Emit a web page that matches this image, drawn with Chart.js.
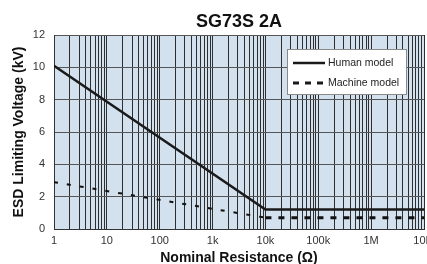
<!DOCTYPE html>
<html>
<head>
<meta charset="utf-8">
<script src="https://cdn.jsdelivr.net/npm/chart.js@4"></script>
<style>
html,body{margin:0;padding:0;background:#fff;overflow:hidden;}
#wrap{width:450px;height:264px;}
</style>
</head>
<body>
<div id="wrap"><canvas id="c" width="450" height="264"></canvas></div>
<script>
// ---- data ----
const resistance = [1, 10000, 10000000];
const humanKV = [10.1, 1.2, 1.2];
const machineKV = [2.9, 0.7, 0.7];
const xTickValues = [1, 10, 100, 1000, 10000, 100000, 1000000, 10000000];
const xTickLabels = ['1', '10', '100', '1k', '10k', '100k', '1M', '10M'];
const yTickValues = [0, 2, 4, 6, 8, 10, 12];
const seriesNames = ['Human model', 'Machine model'];

const FONT = "'Liberation Sans', Arial, Helvetica, sans-serif";

// grid positions: every 1..9 multiple within each decade
const gridValues = [];
for (let d = 0; d < xTickValues.length - 1; d++) {
  for (let m = 1; m <= 9; m++) gridValues.push(m * xTickValues[d]);
}
gridValues.push(xTickValues[xTickValues.length - 1]);

const bgPlugin = {
  id: 'plotBg',
  beforeDraw(chart) {
    const {ctx, chartArea: a} = chart;
    ctx.save();
    ctx.fillStyle = '#d3e0ee';
    ctx.fillRect(a.left, a.top, a.right - a.left, a.bottom - a.top);
    ctx.restore();
  }
};

const legendPlugin = {
  id: 'boxLegend',
  afterDraw(chart) {
    const {ctx, chartArea: a} = chart;
    const x0 = a.left + 233, y0 = a.top + 14, w = 120, h = 46;
    ctx.save();
    ctx.fillStyle = '#ffffff';
    ctx.fillRect(x0, y0, w, h);
    ctx.strokeStyle = '#8a8a8a';
    ctx.lineWidth = 1;
    ctx.strokeRect(x0 + 0.5, y0 + 0.5, w - 1, h - 1);
    const rows = [y0 + 14, y0 + 34];
    // human
    ctx.strokeStyle = '#1a1a1a';
    ctx.lineWidth = 2.5;
    ctx.setLineDash([]);
    ctx.beginPath(); ctx.moveTo(x0 + 6, rows[0]); ctx.lineTo(x0 + 38, rows[0]); ctx.stroke();
    // machine
    ctx.lineWidth = 3;
    ctx.setLineDash([6, 6]);
    ctx.beginPath(); ctx.moveTo(x0 + 6, rows[1]); ctx.lineTo(x0 + 39, rows[1]); ctx.stroke();
    ctx.setLineDash([]);
    ctx.fillStyle = '#222';
    ctx.font = "10.5px " + FONT;
    ctx.textBaseline = 'middle';
    ctx.textAlign = 'left';
    ctx.fillText(chart.data.datasets[0].label, x0 + 41, rows[0]);
    ctx.fillText(chart.data.datasets[1].label, x0 + 41, rows[1]);
    ctx.restore();
  }
};

new Chart(document.getElementById('c'), {
  type: 'line',
  data: {
    datasets: [
      {
        label: seriesNames[0],
        data: resistance.map((r, i) => ({x: r, y: humanKV[i]})),
        borderColor: '#1a1a1a',
        borderWidth: 2.5,
        pointRadius: 0,
        tension: 0,
        fill: false
      },
      {
        label: seriesNames[1],
        data: resistance.map((r, i) => ({x: r, y: machineKV[i]})),
        borderColor: '#111',
        borderWidth: 3,
        borderDash: [6, 7],
        pointRadius: 0,
        tension: 0,
        fill: false,
        segment: {
          borderDash: ctx => ctx.p0DataIndex === 0 ? [4, 9] : [6, 7],
          borderWidth: ctx => ctx.p0DataIndex === 0 ? 2 : 3
        }
      }
    ]
  },
  options: {
    responsive: false,
    animation: false,
    layout: {padding: {left: 0, right: 26, top: 0, bottom: 0}},
    plugins: {
      legend: {display: false},
      tooltip: {enabled: false},
      title: {
        display: true,
        text: 'SG73S 2A',
        fullSize: false,
        color: '#111',
        font: {family: FONT, size: 18, weight: 'bold'},
        padding: {top: 11, bottom: 2.4}
      }
    },
    scales: {
      x: {
        type: 'logarithmic',
        min: 1,
        max: 10000000,
        afterBuildTicks: s => { s.ticks = gridValues.map(v => ({value: v})); },
        afterFit: s => { s.height = 35; },
        ticks: {
          autoSkip: false,
          maxRotation: 0,
          padding: 5,
          color: '#333',
          font: {family: FONT, size: 11},
          callback: v => {
            const i = xTickValues.indexOf(v);
            return i >= 0 ? xTickLabels[i] : '';
          }
        },
        grid: {color: '#2e2e2e', lineWidth: 1, drawTicks: false},
        border: {display: true, color: '#333'},
        title: {
          display: true,
          text: 'Nominal Resistance (Ω)',
          color: '#111',
          font: {family: FONT, size: 14, weight: 'bold'},
          padding: {top: 0, bottom: -2.5}
        }
      },
      y: {
        min: 0,
        max: 12,
        afterBuildTicks: s => { s.ticks = yTickValues.map(v => ({value: v})); },
        afterFit: s => { s.width = 54; },
        ticks: {
          padding: 9,
          color: '#333',
          font: {family: FONT, size: 11}
        },
        grid: {color: '#555', lineWidth: 1, drawTicks: false},
        border: {display: true, color: '#333'},
        title: {
          display: true,
          text: 'ESD Limiting Voltage (kV)',
          color: '#111',
          font: {family: FONT, size: 14, weight: 'bold'},
          padding: {top: 11, bottom: 0}
        }
      }
    }
  },
  plugins: [bgPlugin, legendPlugin]
});
</script>
</body>
</html>
